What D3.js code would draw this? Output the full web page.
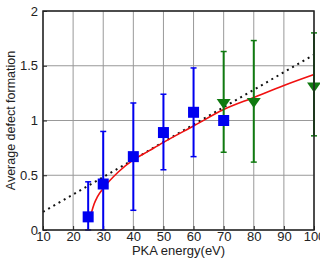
<!DOCTYPE html>
<html>
<head>
<meta charset="utf-8">
<script src="https://cdn.jsdelivr.net/npm/d3@7"></script>
<style>
body { margin: 0; background: #fff; }
text { font-family: "Liberation Sans", Arial, sans-serif; fill: #222; }
</style>
</head>
<body>
<div class="chart"></div>
<script>
// measured points (blue squares)
const sqX = [25, 30, 40, 50, 60, 70],
	sqY = [0.12, 0.42, 0.67, 0.89, 1.075, 1.0],
	sqLo = [0, 0, 0.18, 0.55, 0.67, null],
	sqHi = [0.44, 0.9, 1.16, 1.24, 1.48, null];

// green triangles
const triX = [70, 80, 100],
	triY = [1.16, 1.17, 1.31],
	triLo = [0.71, 0.62, 0.86],
	triHi = [1.63, 1.73, 1.8];

// red fit curve
const fitX = [26, 27, 28, 30, 35, 40, 45, 50, 60, 70, 80, 90, 100],
	fitY = [0.15, 0.24, 0.3, 0.38, 0.53, 0.64, 0.72, 0.8, 0.95, 1.1, 1.21, 1.32, 1.42];

// dotted linear trend
const lineX = [10, 100],
	lineY = [0.165, 1.6];

const xTicks = [10, 20, 30, 40, 50, 60, 70, 80, 90, 100],
	yTicks = [0, 0.5, 1, 1.5, 2];

const outerW = 320, outerH = 259;
const margin = { left: 43, right: 6, top: 11, bottom: 29 };
const w = outerW - margin.left - margin.right,
	h = outerH - margin.top - margin.bottom;

const x = d3.scaleLinear().domain([10, 100]).range([0, w]);
const y = d3.scaleLinear().domain([0, 2]).range([h, 0]);

const svg = d3.select('.chart').append('svg')
	.attr('width', outerW)
	.attr('height', outerH);

const g = svg.append('g')
	.attr('transform', `translate(${margin.left}, ${margin.top})`);

// grid
g.append('g')
	.selectAll('line.vg')
	.data(xTicks)
	.enter().append('line')
	.attr('x1', d => x(d)).attr('x2', d => x(d))
	.attr('y1', 0).attr('y2', h)
	.attr('stroke', '#999').attr('stroke-width', 1);

g.append('g')
	.selectAll('line.hg')
	.data(yTicks)
	.enter().append('line')
	.attr('x1', 0).attr('x2', w)
	.attr('y1', d => y(d)).attr('y2', d => y(d))
	.attr('stroke', '#999').attr('stroke-width', 1);

// axes
const xAxis = g.append('g')
	.attr('transform', `translate(0, ${h})`)
	.call(d3.axisBottom(x).tickValues(xTicks).tickSize(-4).tickSizeOuter(0).tickPadding(2));
const yAxis = g.append('g')
	.call(d3.axisLeft(y).tickValues(yTicks).tickFormat(d3.format('')).tickSize(-4).tickSizeOuter(0).tickPadding(5));

[xAxis, yAxis].forEach(a => {
	a.select('.domain').remove();
	a.selectAll('line').attr('stroke', '#222');
	a.selectAll('text').style('font-size', '13px').attr('fill', '#222');
});

// trend line
g.append('path')
	.datum(lineX.map((d, i) => [d, lineY[i]]))
	.attr('d', d3.line().x(d => x(d[0])).y(d => y(d[1])))
	.attr('fill', 'none')
	.attr('stroke', '#111')
	.attr('stroke-width', 2)
	.attr('stroke-dasharray', '2,4');

// fit curve
g.append('path')
	.datum(fitX.map((d, i) => [d, fitY[i]]))
	.attr('d', d3.line().curve(d3.curveMonotoneX).x(d => x(d[0])).y(d => y(d[1])))
	.attr('fill', 'none')
	.attr('stroke', '#f01010')
	.attr('stroke-width', 1.6);

function errorBars(xs, lo, hi, color) {
	const data = xs.map((d, i) => ({ x: d, lo: lo[i], hi: hi[i] })).filter(d => d.lo !== null);
	const eg = g.append('g').attr('stroke', color).attr('stroke-width', 2);
	eg.selectAll('line.v').data(data).enter().append('line')
		.attr('x1', d => x(d.x)).attr('x2', d => x(d.x))
		.attr('y1', d => y(d.lo)).attr('y2', d => y(d.hi));
	['lo', 'hi'].forEach(k => {
		eg.selectAll('line.' + k).data(data).enter().append('line')
			.attr('x1', d => x(d.x) - 3).attr('x2', d => x(d.x) + 3)
			.attr('y1', d => y(d[k])).attr('y2', d => y(d[k]))
			.attr('stroke-width', 1.5);
	});
}

errorBars(sqX, sqLo, sqHi, '#0000f0');
errorBars(triX, triLo, triHi, '#107a10');

// squares
g.selectAll('.sq')
	.data(sqX.map((d, i) => [d, sqY[i]]))
	.enter().append('rect')
	.attr('x', d => x(d[0]) - 5.5)
	.attr('y', d => y(d[1]) - 5.5)
	.attr('width', 11).attr('height', 11)
	.attr('fill', '#0000f0');

// triangles pointing down, a bit wider than tall
const triDown = {
	draw(ctx) {
		ctx.moveTo(-7, -4);
		ctx.lineTo(7, -4);
		ctx.lineTo(0, 6);
		ctx.closePath();
	}
};
g.selectAll('.tri')
	.data(triX.map((d, i) => [d, triY[i]]))
	.enter().append('path')
	.attr('d', d3.symbol().type(triDown))
	.attr('transform', d => `translate(${x(d[0])}, ${y(d[1])})`)
	.attr('fill', '#107a10');

// frame
g.append('rect')
	.attr('width', w).attr('height', h)
	.attr('fill', 'none')
	.attr('stroke', '#222').attr('stroke-width', 1.5);

// titles
svg.append('text')
	.attr('x', margin.left + w / 2)
	.attr('y', 255)
	.attr('text-anchor', 'middle')
	.style('font-size', '13px')
	.text('PKA energy(eV)');

svg.append('text')
	.attr('transform', `translate(15, ${margin.top + h / 2}) rotate(-90)`)
	.attr('text-anchor', 'middle')
	.style('font-size', '12.5px')
	.text('Average defect formation');
</script>
</body>
</html>
